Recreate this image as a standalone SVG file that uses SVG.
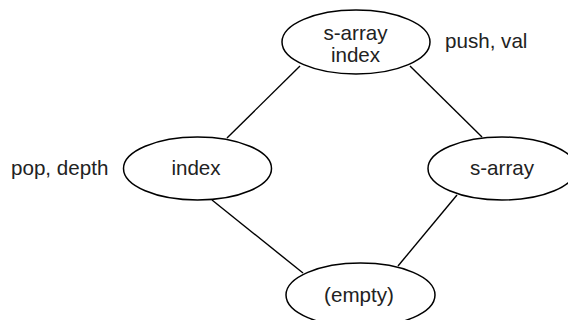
<svg xmlns="http://www.w3.org/2000/svg" width="568" height="320" viewBox="0 0 568 320">
<style>
.n{fill:#fff;stroke:#000;stroke-width:1.5}
.e{stroke:#000;stroke-width:1.4;fill:none}
text{font-family:"Liberation Sans",Arial,sans-serif;font-size:20.6px;fill:#222}
.c{text-anchor:middle}
</style>
<rect width="568" height="320" fill="#fff"/>
<g id="connectors">
<line class="e" x1="300" y1="66" x2="227" y2="138"/>
<line class="e" x1="410" y1="66" x2="482" y2="137"/>
<line class="e" x1="212" y1="200" x2="303" y2="273"/>
<line class="e" x1="457" y1="195" x2="398" y2="266"/>
</g>
<g id="top">
<ellipse class="n" cx="356" cy="42" rx="74" ry="32"/>
<text class="c" x="355.5" y="39.5">s-array</text>
<text class="c" x="355.5" y="62">index</text>
</g>
<text x="445" y="48">push, val</text>
<g id="left">
<ellipse class="n" cx="197.5" cy="168.5" rx="74" ry="31.5"/>
<text class="c" x="196" y="175">index</text>
</g>
<text x="11" y="175">pop, depth</text>
<g id="right">
<ellipse class="n" cx="502" cy="168.5" rx="74" ry="31.5"/>
<text class="c" x="502" y="175">s-array</text>
</g>
<g id="bottom">
<ellipse class="n" cx="360.5" cy="295" rx="74.5" ry="32"/>
<text class="c" x="359" y="302">(empty)</text>
</g>
</svg>
